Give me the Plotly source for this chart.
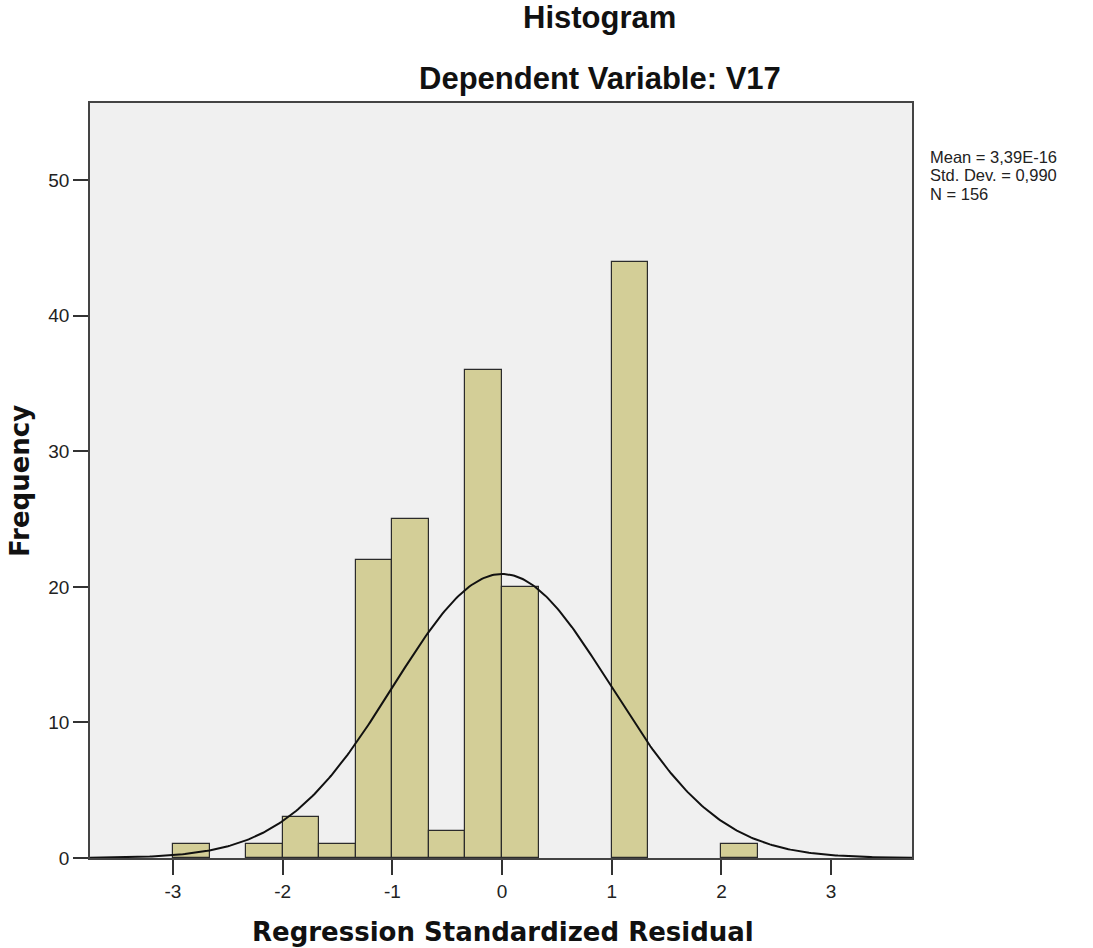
import numpy as np
import plotly.graph_objects as go

# Data
bin_left = [-3.0, -2.3333, -2.0, -1.6667, -1.3333, -1.0, -0.6667, -0.3333, 0.0, 1.0, 2.0]
counts = [1, 1, 3, 1, 22, 25, 2, 36, 20, 44, 1]
bin_width = 1 / 3
mean_val = 3.39e-16
std_val = 0.990
n_val = 156
x_ticks = [-3, -2, -1, 0, 1, 2, 3]
y_ticks = [0, 10, 20, 30, 40, 50]
stats_lines = ["Mean = 3,39E-16", "Std. Dev. = 0,990", f"N = {n_val}"]

centers = [b + bin_width / 2 for b in bin_left]

xr = [-3.756, 3.737]
yr = [0, 55.7]

xc = np.linspace(xr[0], xr[1], 400)
yc = n_val * bin_width * np.exp(-0.5 * ((xc - mean_val) / std_val) ** 2) / (std_val * np.sqrt(2 * np.pi))

fig = go.Figure()
fig.add_trace(go.Bar(
    x=centers, y=counts, width=bin_width,
    marker=dict(color="#D3CE97", line=dict(color="#2b2b2b", width=1.2)),
    hoverinfo="x+y", showlegend=False,
))
fig.add_trace(go.Scatter(
    x=xc, y=yc, mode="lines", line=dict(color="#111111", width=2),
    showlegend=False, hoverinfo="skip",
))

axis_font = dict(family="Liberation Sans, Arial, sans-serif", size=19, color="#222222")
fig.update_xaxes(
    range=xr, tickvals=x_ticks, ticktext=[str(t) for t in x_ticks],
    ticks="outside", ticklen=15, tickwidth=1.5, tickcolor="#333333",
    showline=True, linecolor="#444444", linewidth=1.5, mirror=True,
    showgrid=False, zeroline=False, tickfont=axis_font,
)
fig.update_yaxes(
    range=yr, tickvals=y_ticks, ticktext=[str(t) for t in y_ticks],
    ticks="outside", ticklen=15, tickwidth=1.5, tickcolor="#333333",
    showline=True, linecolor="#444444", linewidth=1.5, mirror=True,
    showgrid=False, zeroline=False, tickfont=axis_font,
)

title_font = dict(family="Liberation Sans, Arial, sans-serif", size=31, color="#111111")
label_font = dict(family="DejaVu Sans, Verdana, sans-serif", size=26, color="#111111")
stats_font = dict(family="Liberation Sans, Arial, sans-serif", size=16.5, color="#222222")

annotations = [
    dict(text="<b>Histogram</b>", x=0.6204, y=1.1132, xref="paper", yref="paper",
         showarrow=False, font=title_font, xanchor="center", yanchor="middle"),
    dict(text="<b>Dependent Variable: V17</b>", x=0.6204, y=1.0318, xref="paper", yref="paper",
         showarrow=False, font=title_font, xanchor="center", yanchor="middle"),
    dict(text="<b>Regression Standardized Residual</b>", x=0.5024, y=-0.098, xref="paper", yref="paper",
         showarrow=False, font=label_font, xanchor="center", yanchor="middle"),
    dict(text="<b>Frequency</b>", x=-0.0852, y=0.4993, xref="paper", yref="paper",
         showarrow=False, font=label_font, xanchor="center", yanchor="middle", textangle=-90),
]
for i, line in enumerate(stats_lines):
    annotations.append(dict(
        text=line, x=1.0195, y=0.9285 - i * 0.0245, xref="paper", yref="paper",
        showarrow=False, align="left", font=stats_font, xanchor="left", yanchor="middle",
    ))

fig.update_layout(
    width=1093, height=948,
    margin=dict(l=90, r=181, t=103, b=90),
    paper_bgcolor="white", plot_bgcolor="#F0F0F0",
    bargap=0, annotations=annotations, showlegend=False,
)

fig.write_html("out.html", config={"displayModeBar": False},
               post_script="document.body.style.margin='0px';")
